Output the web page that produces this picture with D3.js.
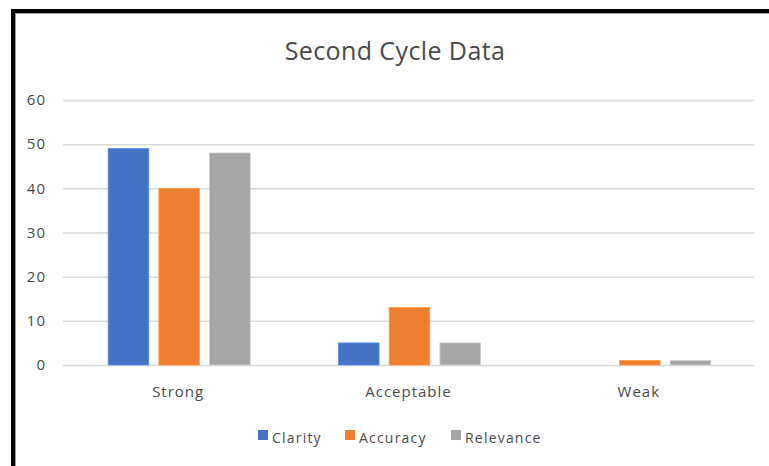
<!DOCTYPE html>
<html>
<head>
<meta charset="utf-8">
<script src="https://cdn.jsdelivr.net/npm/d3@7"></script>
<style>
  html, body { margin: 0; padding: 0; background: #fff; }
  svg { display: block; }
  text { font-family: "Open Sans", Lato, sans-serif; fill: #4a4a4a; }
</style>
</head>
<body>
<svg id="chart" width="769" height="466"></svg>
<script>
// Second cycle ratings per category
const categories = ["Strong", "Acceptable", "Weak"];
const seriesNames = ["Clarity", "Accuracy", "Relevance"];
const clarity = [49, 5, 0];
const accuracy = [40, 13, 1];
const relevance = [48, 5, 1];
const yTicks = [0, 10, 20, 30, 40, 50, 60];
const colors = ["#4472C4", "#ED7D31", "#A5A5A5"];

const seriesValues = [clarity, accuracy, relevance];

const svg = d3.select("#chart");
const W = 769, H = 466;
const FONT = "'Open Sans', Lato, sans-serif";

// frame around the chart area
svg.append("rect").attr("x", 0).attr("y", 0).attr("width", W).attr("height", H).attr("fill", "#fff");
svg.append("rect").attr("x", 11).attr("y", 9).attr("width", W - 11).attr("height", 4).attr("fill", "#000");
svg.append("rect").attr("x", 11).attr("y", 9).attr("width", 4).attr("height", H - 9).attr("fill", "#000");
svg.append("line").attr("x1", 15).attr("x2", W).attr("y1", 13.5).attr("y2", 13.5).attr("stroke", "#9a9a9a").attr("stroke-width", 1);
svg.append("line").attr("x1", 15.5).attr("x2", 15.5).attr("y1", 13).attr("y2", H).attr("stroke", "#9a9a9a").attr("stroke-width", 1);

const plot = { left: 63, right: 754, top: 100, bottom: 365 };

const x0 = d3.scaleBand().domain(categories).range([plot.left, plot.right]).paddingInner(0).paddingOuter(0);
const groupW = 142;
const x1 = d3.scaleBand().domain(seriesNames).range([0, groupW]).paddingInner(0.2).paddingOuter(0);
const y = d3.scaleLinear().domain([0, 60]).range([plot.bottom, plot.top]);

// gridlines and value labels
const yAxis = d3.axisLeft(y).tickValues(yTicks).tickSize(-(plot.right - plot.left)).tickPadding(17);
const gy = svg.append("g").attr("transform", `translate(${plot.left},0)`).call(yAxis);
gy.select(".domain").remove();
gy.selectAll(".tick line").attr("stroke", "#d9d9d9").attr("stroke-width", 1.5);
gy.selectAll(".tick text").attr("font-size", 15).attr("letter-spacing", 1)
  .attr("fill", "#4a4a4a").attr("font-family", FONT);

// bars
const groups = svg.append("g").selectAll("g")
  .data(categories)
  .join("g")
  .attr("transform", d => `translate(${x0(d) + x0.bandwidth() / 2 - groupW / 2 + 1},0)`);

groups.selectAll("rect")
  .data((c, i) => seriesNames.map((s, j) => ({ s, v: seriesValues[j][i], j })))
  .join("rect")
  .attr("x", d => x1(d.s))
  .attr("width", x1.bandwidth())
  .attr("y", d => y(d.v))
  .attr("height", d => y(0) - y(d.v))
  .attr("fill", d => colors[d.j])
  .attr("stroke", d => d3.color(colors[d.j]).brighter(0.6))
  .attr("stroke-width", 0.8);

// category labels
const xAxis = d3.axisBottom(x0).tickSize(0).tickPadding(21);
const gx = svg.append("g").attr("transform", `translate(0,${plot.bottom})`).call(xAxis);
gx.select(".domain").remove();
gx.selectAll(".tick text").attr("font-size", 15).attr("letter-spacing", 1)
  .attr("fill", "#4a4a4a").attr("font-family", FONT);

// title
svg.append("text")
  .attr("x", 395).attr("y", 60)
  .attr("text-anchor", "middle")
  .attr("font-size", 25)
  .attr("letter-spacing", 0.4)
  .attr("fill", "#333")
  .text("Second Cycle Data");

// legend
const legendItems = [
  { name: "Clarity", x: 258 },
  { name: "Accuracy", x: 345 },
  { name: "Relevance", x: 451 }
];
const lg = svg.append("g").selectAll("g").data(legendItems).join("g")
  .attr("transform", d => `translate(${d.x},0)`);
lg.append("rect").attr("x", 0).attr("y", 430).attr("width", 10).attr("height", 10)
  .attr("fill", (d, i) => colors[i]);
lg.append("text").attr("x", 14).attr("y", 443).attr("font-size", 14).attr("letter-spacing", 1.2)
  .text(d => d.name);
</script>
</body>
</html>
